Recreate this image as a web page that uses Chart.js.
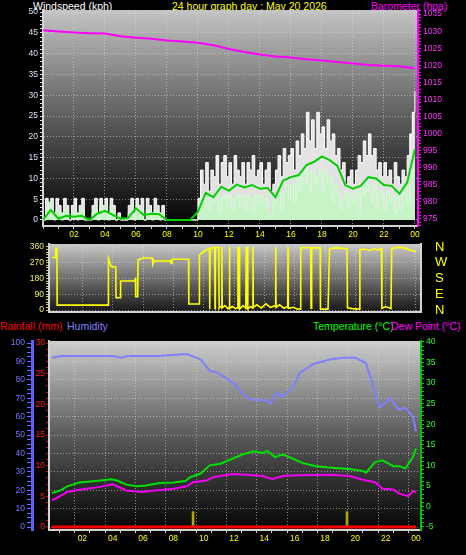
<!DOCTYPE html>
<html>
<head>
<meta charset="utf-8">
<script src="https://cdn.jsdelivr.net/npm/chart.js@4.4.0/dist/chart.umd.min.js"></script>
<style>
html,body{margin:0;padding:0;background:#000;width:466px;height:555px;overflow:hidden;
  font-family:"Liberation Sans",Arial,sans-serif}
canvas{position:absolute;left:0}
.t{position:absolute;font-size:10.5px;line-height:12px;white-space:nowrap}
</style>
</head>
<body>
<div class="t" style="left:33px;top:0;color:#fff">Windspeed (kph)</div>
<div class="t" style="left:172px;top:0;color:#ffff00">24 hour graph day : May 20 2026</div>
<div class="t" style="left:371px;top:0;color:#ff00ff">Barometer (hpa)</div>
<div class="t" style="left:0;top:320px;color:#ff0000">Rainfall (mm)</div>
<div class="t" style="left:67px;top:320px;color:#8080ff">Humidity</div>
<div class="t" style="left:313px;top:320px;color:#00ff00">Temperature (°C)</div>
<div class="t" style="left:391px;top:320px;color:#ff00ff">Dew Point (°C)</div>

<canvas id="c-wind" width="466" height="245" style="top:0"></canvas>
<canvas id="c-dir" width="466" height="89" style="top:232px"></canvas>
<canvas id="c-temp" width="466" height="237" style="top:318px"></canvas>

<script>
// ---- axis labels ----
const xLabelHours = [2,4,6,8,10,12,14,16,18,20,22,24];
const xLabels     = ['02','04','06','08','10','12','14','16','18','20','22','00'];
const windTicks   = [0,5,10,15,20,25,30,35,40,45,50];
const baroTicks   = [975,980,985,990,995,1000,1005,1010,1015,1020,1025,1030,1035];
const dirTicks    = [0,90,180,270,360];
const compass     = ['N','E','S','W','N'];
const humTicks    = [0,10,20,30,40,50,60,70,80,90,100];
const rainTicks   = [0,5,10,15,20,25,30];
const tempTicks   = [-5,0,5,10,15,20,25,30,35,40];

// ---- wind (kph), 10 min samples from 00:00, one row per hour ----
const windGust = [
  0,5.2,3.5,5.2,1.7,5.2,
  3.5,1.7,5.2,3.5,0,3.5,
  5.2,1.7,3.5,5.2,0,0,
  0,3.5,5.2,1.7,5.2,3.5,
  5.2,1.7,5.2,3.5,0,1.7,
  0,0,0,3.5,5.2,1.7,
  5.2,3.5,5.2,0,5.2,3.5,
  1.7,5.2,3.5,1.7,3.5,0,
  0,0,0,0,0,0,
  0,0,0,0,0,0,
  5.2,12,8.6,13.8,6.9,12,
  10.4,15.5,8.6,13.8,15.5,10.4,
  13.8,8.6,15.5,12,10.4,13.8,
  8.6,13.8,12,15.5,10.4,12,
  13.8,8.6,12,13.8,6.9,8.6,
  12,15.5,10.4,17.2,13.8,15.5,
  17.2,12,19,15.5,20.7,17.2,
  25.9,19,24.1,17.2,25.9,20.7,
  22.4,17.2,24.1,19,20.7,15.5,
  17.2,12,13.8,8.6,10.4,12,
  8.6,12,15.5,13.8,19,15.5,
  20.7,15.5,17.2,12,13.8,10.4,
  13.8,10.4,12,8.6,13.8,10.4,
  8.6,12,10.4,15.5,20.7,25.9,
  31
];
const windSpeed = [
  0,2.4,4.3,1.7,0,2.4,
  1.7,0,2.4,1.7,0,1.7,
  2.4,0,1.7,2.4,0,0,
  0,1.7,2.4,0,3.5,1.7,
  2.4,0,3.5,1.7,0,0.9,
  0,0,0,1.7,2.4,0,
  3.5,1.7,2.4,0,2.4,1.7,
  0,2.4,1.7,0,1.7,0,
  0,0,0,0,0,0,
  0,0,0,0,0,0,
  2.4,5.2,3.5,6,2.4,5.2,
  4.3,6,1.7,5.2,6,3.5,
  6,2.4,5.2,6,3.5,6,
  2.4,6,5.2,1.7,6,4.3,
  6,3.5,5.2,1.7,0.9,4.3,
  6,8.6,2.4,6.9,8.6,5.2,
  8.6,4.3,10.4,6.9,12,8.6,
  12,6.9,12,8.6,10.4,12,
  6.9,12,8.6,10.4,4.3,8.6,
  6,2.4,5.2,6.9,3.5,6,
  4.3,6.9,1.7,8.6,6,8.6,
  6.9,4.3,8.6,2.4,6.9,6,
  2.4,6.9,4.3,6,1.7,6.9,
  2.4,6,8.6,4.3,10.4,12,
  12
];
// 30 min samples
const windAvg = [
  0,2.4,0.3,1,0.8,1,0,1.5,2.2,1.2,0.3,0.5,2.8,1.2,1.5,1.4,
  0,0,0,0,2,6.5,5.5,8,7,8.5,7.8,8.4,7.5,7.7,5.5,9.5,
  10.3,10.8,13.2,14,15.3,14.4,13,8.4,7.5,8.2,10.3,10,8.4,8.2,6.3,9,
  17
];
// hourly (hPa)
const baro = [1030.3,1029.9,1029.6,1029.4,1029.3,1028.5,1028.1,1027.8,1027.3,1027.0,
  1026.6,1025.9,1024.8,1023.9,1023.2,1022.6,1022.3,1021.8,1021.4,1021.0,
  1020.5,1020.1,1019.9,1019.7,1019.1];

// ---- wind direction ----
const dirHours = [
  0,0.22,0.24,0.32,0.34,3.7,3.72,3.9,4.2,4.22,4.5,4.52,5.4,5.5,5.52,5.65,5.67,6.0,6.6,6.65,6.72,7.8,7.85,7.9,9.0,9.02,9.7,9.72,
  10.0,10.3,10.38,10.4,10.42,10.6,10.73,10.75,10.77,11.0,11.02,11.1,11.18,11.2,11.22,11.4,11.6,11.68,11.7,11.72,11.9,
  12.1,12.24,12.26,12.28,12.3,12.32,12.35,12.37,12.6,12.78,12.8,12.82,12.88,12.9,12.92,13.1,13.23,13.25,13.27,13.5,13.8,14.1,14.4,14.73,14.75,14.77,15.0,15.3,15.54,15.56,15.58,15.9,16.2,16.38,
  16.4,16.6,17.05,17.08,17.12,17.68,17.7,18.2,18.3,18.8,19.45,19.48,19.8,20.25,20.3,20.6,20.9,21.2,21.5,21.72,21.75,22.0,22.35,22.4,22.9,23.3,23.7,24.0
];
const dirDeg = [
  300,300,352,352,28,28,295,247,247,70,70,166,166,178,76,76,286,297,297,263,280,280,266,290,290,34,34,314,
  334,349,349,5,352,356,356,8,356,358,10,20,15,360,12,25,8,15,360,10,20,
  8,15,360,10,360,15,360,5,25,10,360,20,15,360,8,20,10,360,15,30,12,35,15,25,360,15,30,10,20,360,10,15,5,5,
  355,356,356,10,355,355,5,5,352,355,350,12,8,5,343,348,340,348,343,352,10,20,8,352,359,352,340,334
];

// ---- humidity / temperature / dew point ----
const humHours = [0,0.6,2,4,4.6,4.8,5,7,8.9,9.2,9.8,10.4,10.9,11.9,12.8,13.2,14.1,14.4,14.8,15.2,15.9,16.3,17.2,18.3,19.2,20,20.7,21.2,21.6,22.3,22.9,23.3,23.8,24];
const humidity = [92,93,93,93,92,92.5,93,93,94,93,91,85,84,78.5,71,69,69,67,73,71,76,83.5,88.5,91,92,92,89,76,65,70,63.5,65,60,52];
const tempHours = [0,0.5,1,1.8,2.9,3.9,4.3,4.9,5.6,6.2,7.1,8,8.8,9.1,9.8,10.4,11.1,11.9,12.6,13.3,13.9,14.2,14.7,15.2,15.9,16.5,17.4,18.5,19.6,20.5,20.7,21.3,21.8,22.5,22.9,23.3,23.8,24];
const temperature = [3.3,3.8,4.9,5.8,6.2,6.6,6.3,5.3,4.9,5.1,5.7,5.8,6.2,7.1,8,10,10.4,11.6,12.7,13.4,13,13.5,12,12.7,11.6,10.6,9.8,9.4,9.1,8.6,8.2,10.8,11.2,9.8,9.8,9.2,12,14.1];
const dewHours = [0,0.3,1,1.9,3.1,4,4.9,5.9,6.8,8,8.9,9.3,10.2,10.6,11.9,12.8,13.9,14.5,15.2,16.3,18.5,19.6,20.7,21.3,21.8,22.5,22.9,23.5,23.8,24];
const dewPoint = [1.5,2,3.5,4.1,4.7,5.4,3.9,3.5,3.9,4.3,4.9,5.9,6.3,7.1,7.9,7.7,7.4,6.6,7.4,7.6,7.7,7.4,6.3,5.9,4.3,4.1,3.1,2.5,3.7,3.5];
const rainHours = [0,24];
const rainfall = [0,0];
const rateHours = [9.3,19.45];
const rainRate = [2.5,2.5];

// ---- helpers ----
function range(a,b,s){ const o=[]; for(let v=a; v<=b+1e-9; v+=s) o.push(Math.round(v*100)/100); return o; }
function even(step, vals){ return vals.map((y,i)=>({x:i*step, y})); }
function pairs(xs, ys){ return xs.map((x,i)=>({x, y:ys[i]})); }
const tickVal = c => c.tick ? c.tick.value : NaN;
const GRID = 'rgba(225,225,225,0.55)';
const EDGE = '#d4d4d4';

Chart.defaults.font.family = '"Liberation Sans", Arial, sans-serif';
Chart.defaults.font.size = 8.5;

Chart.register({
  id:'panelBg',
  beforeDraw(chart, args, o){
    if (!o || !o.stops) return;
    const {ctx, chartArea:a} = chart;
    const g = ctx.createLinearGradient(0,a.top,0,a.bottom);
    o.stops.forEach(s=>g.addColorStop(s[0],s[1]));
    ctx.save(); ctx.fillStyle=g; ctx.fillRect(a.left,a.top,a.right-a.left,a.bottom-a.top); ctx.restore();
  }
});

function hourAxis(min, max, height, showLabels){
  return {
    type:'linear', min, max, offset:false,
    afterFit: s=>{ s.height = height; },
    afterBuildTicks: s=>{ s.ticks = range(0,24,1).map(v=>({value:v})); },
    ticks:{ display:showLabels, autoSkip:false, maxRotation:0, color:'#ffff00', padding:1,
      callback: v=>{ const i=xLabelHours.indexOf(v); return i<0?'':xLabels[i]; } },
    grid:{ color: c=> xLabelHours.includes(tickVal(c)) ? GRID : 'transparent',
      drawTicks:showLabels, tickColor:'#cfcfcf', tickLength:3 },
    border:{ color:EDGE, width:2, dash:[1,2] }
  };
}

function valueAxis(o){
  return {
    position:o.pos, min:o.min, max:o.max, weight:o.weight||0,
    afterFit: s=>{ s.width = o.width; },
    afterBuildTicks: s=>{ s.ticks = o.all.map(v=>({value:v})); },
    ticks:{ autoSkip:false, color:o.color, padding:o.pad==null?2:o.pad, font:o.font,
      callback: o.label || (v=> o.major.includes(v) ? String(v) : '') },
    grid:{ drawOnChartArea:!!o.grid, drawTicks:true, tickLength:o.tickLen||3, tickColor:o.tickColor,
      color: c=> o.major.includes(tickVal(c)) ? GRID : 'transparent' },
    border:{ color:o.border, width:o.borderWidth||2, dash:[1,2] }
  };
}

const common = {
  responsive:false, animation:false, events:[],
  elements:{ point:{radius:0}, line:{tension:0} },
};

// ---- top: wind speed + barometer ----
new Chart(document.getElementById('c-wind'), {
  type:'line',
  data:{ datasets:[
    { data:even(1/6,windGust), yAxisID:'yWind', borderColor:'#ffffff', borderWidth:1,
      backgroundColor:'rgba(242,242,242,0.92)', fill:'origin', stepped:true, order:4 },
    { data:even(1/6,windSpeed), yAxisID:'yWind', borderColor:'#d4ffd4', borderWidth:1,
      backgroundColor:'rgba(196,246,196,0.9)', fill:'origin', stepped:true, order:3 },
    { data:even(0.5,windAvg), yAxisID:'yWind', borderColor:'#00d000', borderWidth:2, fill:false, order:2 },
    { data:even(1,baro), yAxisID:'yBaro', borderColor:'#ff00ff', borderWidth:2, fill:false, order:1 },
  ]},
  options:{ ...common,
    layout:{ padding:{top:10} },
    plugins:{ legend:{display:false}, tooltip:{enabled:false},
      panelBg:{ stops:[[0,'#c4c4c4'],[0.5,'#5c5c5c'],[1,'#020202']] } },
    scales:{
      x: hourAxis(0, 24.2, 19, true),
      yWind: valueAxis({ pos:'left', min:-1.45, max:50.5, width:43, all:range(0,50,1), major:windTicks,
        color:'#d8e2ff', tickColor:'#e6e6e6', border:EDGE, grid:true }),
      yBaro: valueAxis({ pos:'right', min:972.95, max:1036.2, width:48, all:range(973,1036,1), major:baroTicks,
        color:'#ff33ff', tickColor:'#ff00ff', border:'#ff00ff' })
    }
  }
});

// ---- middle: wind direction ----
new Chart(document.getElementById('c-dir'), {
  type:'line',
  data:{ datasets:[
    { data:pairs(dirHours,dirDeg), yAxisID:'yDir', borderColor:'#ffff00', borderWidth:1.6, fill:false }
  ]},
  options:{ ...common,
    layout:{ padding:{top:12} },
    plugins:{ legend:{display:false}, tooltip:{enabled:false},
      panelBg:{ stops:[[0,'#c8c8c8'],[0.5,'#707070'],[1,'#161616']] } },
    scales:{
      x: hourAxis(-0.2, 24.33, 9, false),
      yDir: valueAxis({ pos:'left', min:-11.4, max:377, width:49, all:range(0,360,15), major:dirTicks,
        color:'#f0f060', tickColor:'#d0c840', border:EDGE, grid:true }),
      yDirR: valueAxis({ pos:'right', min:-11.4, max:377, width:45, all:dirTicks, major:dirTicks,
        color:'#ffff00', tickLen:14, tickColor:'transparent', pad:0, font:{size:13}, border:EDGE,
        label:(v)=>compass[dirTicks.indexOf(v)] })
    }
  }
});

// ---- bottom: humidity, rainfall, temperature, dew point ----
new Chart(document.getElementById('c-temp'), {
  type:'line',
  data:{ datasets:[
    { data:pairs(humHours,humidity), yAxisID:'yHum', borderColor:'#8080ff', borderWidth:2, fill:false, order:3 },
    { data:pairs(tempHours,temperature), yAxisID:'yTemp', borderColor:'#00e000', borderWidth:2, fill:false, order:2 },
    { data:pairs(dewHours,dewPoint), yAxisID:'yTemp', borderColor:'#f000f0', borderWidth:2, fill:false, order:1 },
    { type:'bar', data:pairs(rateHours,rainRate), yAxisID:'yRain', backgroundColor:'#b0a400', barThickness:2, order:5 },
    { data:pairs(rainHours,rainfall), yAxisID:'yRain', borderColor:'#ff0000', borderWidth:3, fill:false, order:4 },
  ]},
  options:{ ...common,
    layout:{ padding:{top:23} },
    plugins:{ legend:{display:false}, tooltip:{enabled:false},
      panelBg:{ stops:[[0,'#cdcdcd'],[0.5,'#5a5a5a'],[1,'#040404']] } },
    scales:{
      x: hourAxis(-0.2, 24.33, 25, true),
      yHum: valueAxis({ pos:'left', weight:2, min:-1.6, max:101.1, width:32, all:range(0,100,2.5), major:humTicks,
        color:'#7878ff', tickColor:'#6a6aff', border:'#6060ff', borderWidth:3, grid:true, tickLen:5 }),
      yRain: valueAxis({ pos:'left', weight:1, min:-0.49, max:30.33, width:17, all:range(0,30,1), major:rainTicks,
        color:'#ff2020', tickColor:'#e00000', border:EDGE, pad:1 }),
      yTemp: valueAxis({ pos:'right', min:-5.73, max:40.24, width:45, all:range(-5,40,1), major:tempTicks,
        color:'#20ff20', tickColor:'#00d000', border:'#00c000' })
    }
  }
});
</script>
</body>
</html>
